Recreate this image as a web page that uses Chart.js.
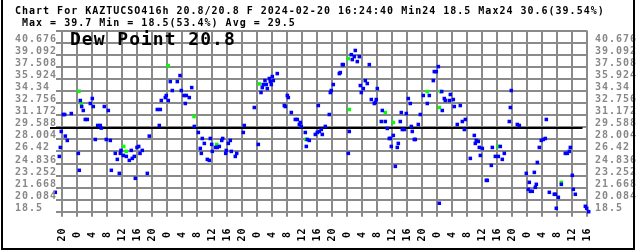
<!DOCTYPE html>
<html>
<head>
<meta charset="utf-8">
<script src="https://cdn.jsdelivr.net/npm/chart.js@4/dist/chart.umd.min.js"></script>
<style>
  html, body { margin: 0; padding: 0; background: #fff; }
  #wrap { width: 636px; height: 251px; }
</style>
</head>
<body>
<div id="wrap"><canvas id="dew" width="636" height="251"></canvas></div>
<script>
const titleLine1 = 'Chart For KAZTUCSO416h 20.8/20.8 F 2024-02-20 16:24:40 Min24 18.5 Max24 30.6(39.54%)';
const titleLine2 = ' Max = 39.7 Min = 18.5(53.4%) Avg = 29.5';
const bigLabel = 'Dew Point 20.8';
const avgValue = 29.5;

const yTickLabels = ['40.676', '39.092', '37.508', '35.924', '34.34', '32.756', '31.172',
  '29.588', '28.004', '26.42', '24.836', '23.252', '21.668', '20.084', '18.5'];
const yTopGrid = 42.26;

// one label every 4 hours, first one is 2024-02-14 20:00
const xTickLabels = ['20', '0', '4', '8', '12', '16', '20', '0', '4', '8', '12', '16',
  '20', '0', '4', '8', '12', '16', '20', '0', '4', '8', '12', '16',
  '20', '0', '4', '8', '12', '16', '20', '0', '4', '8', '12', '16'];

// hours since 2024-02-14 20:00, dew point in F
const blueHours = [-2.93, -2.67, -2.13, -1.87, -0.80, -0.53, -0.27, 0.27, 0.64, 0.80, 1.33, 2.40,
  4.27, 4.53, 4.80, 5.17, 5.60, 6.13, 6.67, 7.47, 8.00, 8.27, 8.80, 9.44, 10.13, 10.40, 11.20,
  11.73, 12.27, 12.80, 13.07, 14.13, 14.67, 15.20, 15.47, 15.65, 16.27, 17.07, 17.87, 18.40,
  18.67, 19.20, 19.47, 19.92, 20.37, 20.72, 21.33, 22.67, 23.20, 25.33, 25.87, 26.13, 26.40,
  27.47, 27.73, 28.27, 28.80, 29.33, 30.67, 31.39, 31.73, 32.45, 32.80, 33.07, 33.87, 34.51,
  35.20, 36.27, 36.80, 37.07, 37.33, 37.87, 38.67, 39.20, 39.47, 39.84, 40.00, 40.80, 41.33,
  41.87, 42.51, 42.77, 43.57, 43.73, 44.27, 44.80, 45.07, 46.13, 46.51, 48.27, 48.53, 51.20,
  52.27, 52.99, 53.33, 53.60, 54.05, 54.40, 54.67, 55.20, 55.47, 55.73, 56.00, 56.27, 57.33,
  59.20, 59.47, 60.00, 60.27, 61.07, 62.13, 62.67, 63.20, 63.47, 63.73, 64.80, 65.07, 65.33,
  65.87, 67.47, 68.00, 68.27, 68.53, 69.07, 69.33, 70.13, 71.20, 71.47, 71.73, 72.27, 73.87,
  74.13, 74.67, 74.93, 76.27, 76.53, 77.07, 77.33, 77.87, 78.13, 78.67, 79.20, 79.47, 79.73,
  80.27, 80.80, 81.33, 81.87, 82.40, 83.20, 83.47, 83.73, 84.00, 85.07, 85.33, 86.13, 86.67,
  87.20, 87.47, 87.73, 88.27, 88.80, 89.33, 89.60, 90.13, 90.40, 90.67, 91.20, 91.73, 92.27,
  92.80, 93.07, 93.33, 93.87, 94.13, 94.93, 95.47, 96.27, 97.33, 97.87, 98.93, 99.20, 99.73,
  100.27, 100.53, 101.17, 101.33, 101.87, 102.13, 103.20, 103.47, 104.27, 104.53, 105.33,
  106.13, 106.67, 107.20, 107.47, 108.80, 109.87, 110.13, 110.40, 110.93, 111.20, 111.47,
  112.00, 113.07, 113.33, 114.40, 114.67, 115.47, 116.27, 116.80, 117.33, 117.87, 119.20,
  119.47, 119.73, 121.33, 121.87, 123.73, 124.27, 124.53, 124.80, 125.33, 125.87, 126.13,
  126.40, 126.67, 127.20, 127.73, 128.27, 128.80, 129.07, 129.87, 131.20, 131.47, 131.73,
  132.27, 133.07, 134.13, 134.67, 135.20, 135.47, 136.00, 136.27, 136.80, 139.47, 139.84,
  140.37, 140.72];
const blueValues = [25.77, 26.43, 24.98, 21.05, 25.77, 26.95, 29.05, 31.28, 31.28, 28.44, 27.87, 31.41,
  26.17, 23.94, 33.12, 32.33, 31.81, 30.63, 30.63, 32.73, 33.38, 32.33, 28.00, 29.84, 29.84, 29.49, 32.33,
  28.00, 31.81, 27.87, 23.94, 26.17, 25.38, 23.54, 26.17, 26.56, 25.90, 25.77, 25.25, 26.56,
  25.51, 25.77, 22.89, 26.95, 27.08, 26.17, 26.56, 23.54, 28.44, 31.94, 29.84, 31.94, 33.12,
  33.51, 33.78, 33.12, 35.61, 34.43, 35.61, 36.40, 34.43, 33.78, 32.73, 33.78, 33.51, 34.82,
  29.71, 28.92, 26.82, 26.17, 28.13, 27.48, 25.38, 25.25, 28.13, 27.35, 26.43, 26.95, 26.95,
  27.08, 27.87, 28.13, 26.17, 26.56, 27.48, 27.87, 26.43, 25.77, 26.17, 28.92, 29.84, 32.20,
  27.35, 34.17, 34.82, 35.22, 35.74, 35.22, 34.69, 36.01, 35.61, 35.22, 36.27, 35.74, 36.66,
  32.46, 32.33, 33.78, 33.51, 31.54, 30.63, 30.63, 29.97, 30.23, 29.71, 28.92, 27.08, 28.00,
  27.87, 28.66, 28.92, 32.46, 29.05, 29.31, 28.66, 29.71, 31.28, 34.17, 34.43, 35.22, 36.66,
  36.79, 37.84, 37.84, 26.17, 29.05, 39.15, 38.50, 38.89, 39.70, 38.24, 38.89, 35.09, 34.17,
  34.69, 35.74, 35.35, 37.84, 33.25, 32.73, 32.86, 33.25, 34.69, 30.36, 31.81, 30.36, 29.45,
  28.13, 28.13, 27.08, 28.53, 24.46, 26.95, 27.48, 30.36, 31.54, 29.31, 29.31, 31.41, 33.38,
  32.73, 29.71, 29.05, 28.00, 28.00, 29.97, 31.28, 33.78, 32.73, 33.78, 35.74, 36.92, 36.92,
  37.58, 19.61, 34.30, 31.81, 33.38, 33.12, 33.12, 33.91, 33.25, 32.33, 29.97,
  32.46, 30.36, 29.31, 30.63, 25.51, 28.53, 27.48, 27.87, 27.74, 26.95, 25.90,
  26.82, 22.62, 22.62, 24.59, 26.95, 25.77, 25.77, 27.08, 25.38, 26.17, 30.36,
  32.20, 34.43, 29.97, 29.84, 23.54, 21.44, 22.36, 21.18, 21.18, 23.67, 21.70,
  22.10, 24.98, 26.95, 27.87, 28.00, 28.13, 30.63, 21.05, 20.79, 20.79, 18.95,
  20.39, 22.10, 26.17, 26.17, 26.43, 26.95, 23.28, 21.44, 20.79, 19.21, 18.95,
  18.50, 20.80];
const greenHours = [4.45, 5.07, 16.37, 17.07, 28.27, 35.12, 41.17, 52.53, 64.99, 76.27, 76.53,
  86.13, 88.27, 97.33, 100.53, 100.85, 116.27, 133.07];
const greenValues = [34.34, 32.73, 27.08, 26.43, 37.71, 31.02, 27.35, 35.30, 28.00, 38.63, 31.94,
  31.54, 30.23, 34.30, 32.20, 34.30, 27.08, 22.36];

const toPoints = (hours, values) => hours.map((h, i) => ({ x: h, y: values[i] }));

const monoFont = (size) => `bold ${size}px "DejaVu Sans Mono", monospace`;

const decorPlugin = {
  id: 'decor',
  beforeDatasetsDraw(chart) {
    const { ctx, chartArea, scales: { y } } = chart;
    const yAvg = y.getPixelForValue(avgValue);
    ctx.save();
    ctx.strokeStyle = '#000';
    ctx.lineWidth = 2;
    ctx.beginPath();
    ctx.moveTo(chartArea.left - 6, yAvg);
    ctx.lineTo(chartArea.right - 5, yAvg);
    ctx.stroke();
    ctx.restore();
  },
  afterDraw(chart) {
    const { ctx, chartArea, scales: { x, y } } = chart;
    ctx.save();
    ctx.letterSpacing = '1px';

    // title lines
    ctx.fillStyle = '#000';
    ctx.font = monoFont(10);
    ctx.textAlign = 'left';
    ctx.textBaseline = 'alphabetic';
    ctx.fillText(titleLine1, 15, 13.5);
    ctx.fillText(titleLine2, 15, 26);

    // y labels on both sides
    ctx.fillStyle = '#888';
    yTickLabels.forEach(lbl => {
      const py = y.getPixelForValue(Number(lbl)) - 1;
      ctx.fillText(lbl, 15, py);
      ctx.fillText(lbl, chartArea.right + 7.5, py);
    });

    // rotated hour labels
    ctx.fillStyle = '#000';
    ctx.textAlign = 'center';
    ctx.textBaseline = 'middle';
    xTickLabels.forEach((lbl, i) => {
      const px = x.getPixelForValue(i * 4);
      ctx.save();
      ctx.translate(px, 234.5);
      ctx.rotate(-Math.PI / 2);
      ctx.fillText(lbl, 0, 0);
      ctx.restore();
    });

    // big label
    ctx.font = monoFont(18);
    ctx.textAlign = 'left';
    ctx.textBaseline = 'alphabetic';
    ctx.fillText(bigLabel, 70, 45);

    // frame
    ctx.strokeStyle = '#000';
    ctx.lineWidth = 2;
    ctx.beginPath();
    ctx.moveTo(2, 0);
    ctx.lineTo(2, 249);
    ctx.lineTo(634, 249);
    ctx.lineTo(634, 0);
    ctx.stroke();
    ctx.restore();
  }
};

new Chart(document.getElementById('dew'), {
  type: 'scatter',
  data: {
    datasets: [
      {
        label: 'Dew point',
        data: toPoints(blueHours, blueValues),
        backgroundColor: '#0000ff',
        borderWidth: 0,
        pointStyle: 'rect',
        pointRadius: 2.5,
        clip: false
      },
      {
        label: 'Dew point (alt)',
        data: toPoints(greenHours, greenValues),
        backgroundColor: '#00ff00',
        borderWidth: 0,
        pointStyle: 'rect',
        pointRadius: 2.5,
        clip: false
      }
    ]
  },
  options: {
    responsive: false,
    animation: false,
    devicePixelRatio: 1,
    layout: { padding: { left: 56, right: 48.5, top: 31, bottom: 34.3 } },
    plugins: { legend: { display: false }, tooltip: { enabled: false } },
    scales: {
      x: {
        type: 'linear',
        min: -1.68,
        max: 140.05,
        afterBuildTicks: scale => {
          scale.ticks = xTickLabels.map((_, i) => ({ value: i * 4 }));
        },
        ticks: { display: false },
        grid: { color: '#8a8a8a', lineWidth: 2, drawTicks: true, tickLength: 5 },
        border: { display: false }
      },
      y: {
        min: 18.5,
        max: yTopGrid,
        afterBuildTicks: scale => {
          scale.ticks = yTickLabels.map(v => ({ value: Number(v) })).concat([{ value: yTopGrid }]);
        },
        ticks: { display: false },
        grid: { color: '#8a8a8a', lineWidth: 2, drawTicks: false },
        border: { display: false }
      }
    }
  },
  plugins: [decorPlugin]
});
</script>
</body>
</html>
